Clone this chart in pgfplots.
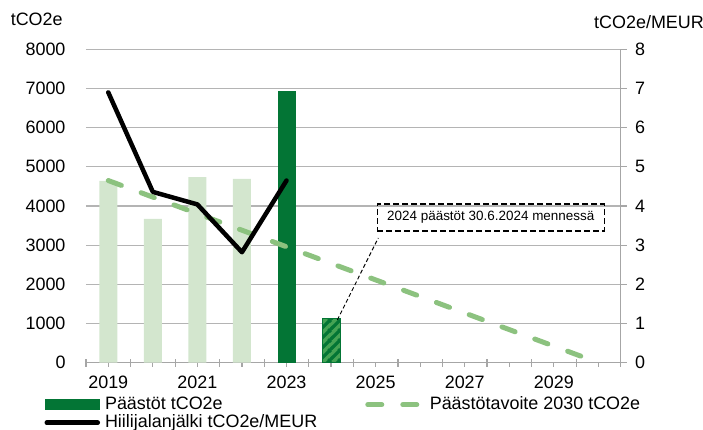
\documentclass[border=0pt]{standalone}
\usepackage{fontspec}
\setmainfont{Liberation Sans}
\usepackage{pgfplots}
\pgfplotsset{compat=1.18}
\usetikzlibrary{patterns.meta}
\definecolor{lightg}{HTML}{D3E6CE}
\definecolor{darkg}{HTML}{037535}
\definecolor{midg}{HTML}{45A354}
\definecolor{targetg}{HTML}{8CC27F}
\definecolor{axgray}{HTML}{A6A6A6}
\definecolor{gridgray}{HTML}{B4B4B4}

\tikzdeclarepattern{
  name=stripes,
  type=uncolored,
  bottom left={(0bp,0bp)},
  top right={(10bp,10bp)},
  tile size={(10bp,10bp)},
  code={
    \draw[line width=3.5bp] (-1bp,-1bp) -- (11bp,11bp);
    \draw[line width=3.5bp] (-1bp,9bp) -- (1bp,11bp);
    \draw[line width=3.5bp] (9bp,-1bp) -- (11bp,1bp);
  }
}

\begin{document}
\begin{tikzpicture}
\begin{axis}[
  width=534.7bp, height=313.4bp, scale only axis,
  xmin=-0.5, xmax=11.5, ymin=0, ymax=8000,
  axis y line*=left, axis x line*=bottom,
  y axis line style={draw=none}, ytick style={draw=none},
  x axis line style={axgray, line width=1.2bp},
  xtick style={axgray, line width=1.2bp},
  xtick={0,...,11},
  xticklabels={2019,,2021,,2023,,2025,,2027,,2029,},
  tick align=outside, major tick length=4bp,
  extra x ticks={-0.5,0.5,...,11.5},
  extra x tick labels={},
  extra x tick style={major tick length=8bp, tick align=center},
  ytick={0,1000,...,8000},
  ymajorgrids, grid style={gridgray, line width=1.2bp},
  /pgf/number format/1000 sep={},
  /pgf/number format/assume math mode=true,
  yticklabel style={font=\fontsize{18}{20}\selectfont, xshift=-13bp},
  xticklabel style={font=\fontsize{18}{20}\selectfont, yshift=-6bp},
  legend columns=2,
  legend style={at={(-0.0835,-0.10)}, anchor=north west, draw=none, fill=none,
    font=\fontsize{18}{20}\selectfont,
    nodes={inner sep=0pt, text height=13bp, text depth=4bp},
    row sep=1bp,
    /tikz/every even column/.append style={column sep=48bp},
    /tikz/every odd column/.append style={column sep=5bp}},
  legend cell align=left,
]
\addplot[ybar, bar width=18bp, bar shift=0pt, fill=lightg, draw=none, forget plot]
  coordinates {(0,4640) (1,3670) (2,4740) (3,4690)};
\addplot[ybar, bar width=18bp, bar shift=0pt, fill=darkg, draw=none,
  legend image code/.code={\fill[darkg] (0bp,-5.5bp) rectangle (55bp,5.5bp);}]
  coordinates {(4,6930)};
\addlegendentry{Päästöt tCO2e}
\addplot[ybar, bar width=18bp, bar shift=0pt, draw=darkg, line width=0.8bp, fill=midg,
  postaction={pattern color=darkg, pattern=stripes}, forget plot]
  coordinates {(5,1120)};
\addplot[targetg, line width=5bp, line cap=round, dash pattern=on 14bp off 21bp,
  legend image code/.code={\draw[targetg, line width=5bp, line cap=round, dash pattern=on 14bp off 21bp] (2.5bp,0bp) -- (57bp,0bp);}]
  coordinates {(0,4650) (1,4227) (2,3805) (3,3382) (4,2959) (5,2536) (6,2114) (7,1691) (8,1268) (9,845) (10,423) (11,0)};
\addlegendentry{Päästötavoite 2030 tCO2e}
\addlegendimage{black, line width=4.5bp, line cap=round,
  legend image code/.code={\draw[black, line width=4.5bp, line cap=round] (2bp,0bp) -- (53bp,0bp);}}
\addlegendentry{Hiilijalanjälki tCO2e/MEUR}
\draw[black, line width=1bp, dash pattern=on 4bp off 2.5bp] (axis cs:5.14,1090) -- (axis cs:6.06,3183);
\node[draw=black, line width=1.3bp, dash pattern=on 6bp off 3bp, minimum width=227bp, minimum height=27bp, inner sep=0pt, font=\fontsize{13.5}{15}\selectfont] at (axis cs:8.584,3706) {2024 päästöt 30.6.2024 mennessä};
\end{axis}
\begin{axis}[
  width=534.7bp, height=313.4bp, scale only axis,
  xmin=-0.5, xmax=11.5, ymin=0, ymax=8,
  axis y line*=right, axis x line=none,
  ytick={0,...,8},
  y axis line style={axgray, line width=1.2bp},
  ytick style={axgray, line width=1.2bp},
  tick align=outside, major tick length=6bp,
  /pgf/number format/assume math mode=true,
  yticklabel style={font=\fontsize{18}{20}\selectfont, xshift=5bp},
]
\addplot[black, line width=4.5bp, line join=round, line cap=round]
  coordinates {(0,6.9) (1,4.36) (2,4.04) (3,2.82) (4,4.65)};
\end{axis}
\node[font=\fontsize{18}{20}\selectfont] at (-49.3bp,343.7bp) {tCO2e};
\node[font=\fontsize{18}{20}\selectfont] at (563bp,341bp) {tCO2e/MEUR};
\pgfresetboundingbox
\path[use as bounding box] (-86bp,-67.3bp) rectangle (617bp,362.7bp);
\end{tikzpicture}
\end{document}
